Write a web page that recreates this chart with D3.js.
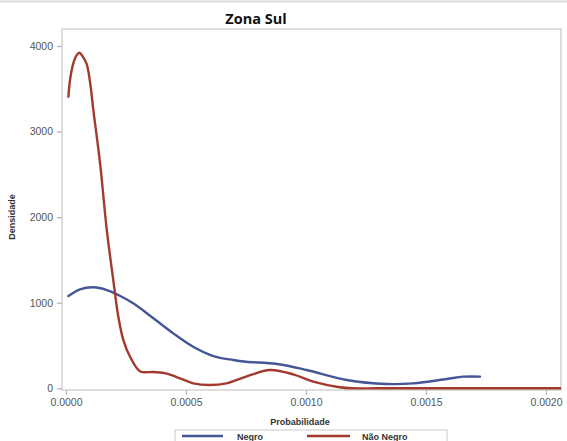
<!DOCTYPE html>
<html>
<head>
<meta charset="utf-8">
<script src="https://cdn.jsdelivr.net/npm/d3@7"></script>
<style>
  html, body { margin: 0; padding: 0; background: #fff; }
  svg { display: block; }
</style>
</head>
<body>
<svg id="chart" width="567" height="441"></svg>
<script>
// ---- Data ----
const title = "Zona Sul";
const xLabel = "Probabilidade";
const yLabel = "Densidade";
const seriesNames = ["Negro", "Não Negro"];
const xTicks = [0, 0.0005, 0.0010, 0.0015, 0.0020];
const yTicks = [0, 1000, 2000, 3000, 4000];

const negroX = [0.00001, 0.0000583, 0.000114, 0.00017, 0.000218, 0.00028, 0.000364, 0.000447, 0.00053, 0.000614, 0.000697, 0.00075, 0.00088, 0.001003, 0.00117, 0.001336, 0.001447, 0.001586, 0.001655, 0.001725];
const negroY = [1078, 1156, 1180, 1148, 1090, 993, 818, 642, 486, 377, 331, 311, 284, 214, 97, 50, 58, 109, 136, 136];

const naoNegroX = [0.00001, 0.0000167, 0.0000304, 0.0000446, 0.0000554, 0.000068, 0.000086, 0.0001, 0.000114, 0.000142, 0.00017, 0.000197, 0.000218, 0.000239, 0.000267, 0.000308, 0.000364, 0.00042, 0.000475, 0.00053, 0.0006, 0.000668, 0.00075, 0.00085, 0.00095, 0.00103, 0.00114, 0.00119, 0.0013, 0.0016, 0.00206];
const naoNegroY = [3407, 3602, 3797, 3894, 3921, 3885, 3790, 3580, 3251, 2628, 1849, 1265, 836, 564, 369, 200, 190, 172, 117, 58, 39, 58, 136, 214, 160, 77, 12, 0, 0, 0, 0];

const colors = ["#445694", "#A23A2E"];

// ---- Layout ----
const svg = d3.select("#chart");
const frame = { left: 62, right: 561, top: 29, bottom: 390 };

const x = d3.scaleLinear().domain([0, 0.002]).range([66, 546]);
const y = d3.scaleLinear().domain([0, 4000]).range([388.3, 46]);

// top grey line (image border)
svg.append("line").attr("x1", 0).attr("x2", 567).attr("y1", 1.5).attr("y2", 1.5)
  .attr("stroke", "#d8d8d8").attr("stroke-width", 2);

// title
svg.append("text").attr("x", 256).attr("y", 24)
  .attr("text-anchor", "middle")
  .attr("font-family", "Open Sans, sans-serif").attr("font-weight", "bold")
  .attr("font-size", 14.5).attr("fill", "#111").text(title);

// frame
svg.append("rect")
  .attr("x", frame.left).attr("y", frame.top)
  .attr("width", frame.right - frame.left).attr("height", frame.bottom - frame.top)
  .attr("fill", "none").attr("stroke", "#c9c9c9").attr("stroke-width", 1.2);

// axes
const xAxis = d3.axisBottom(x).tickValues(xTicks).tickFormat(d3.format(".4f")).tickSizeInner(5).tickSizeOuter(0).tickPadding(4);
const gx = svg.append("g").attr("transform", `translate(0,${frame.bottom})`).call(xAxis);
gx.select(".domain").remove();

const yAxis = d3.axisLeft(y).tickValues(yTicks).tickFormat(d3.format("d")).tickSizeInner(5).tickSizeOuter(0).tickPadding(4);
const gy = svg.append("g").attr("transform", `translate(${frame.left},0)`).call(yAxis);
gy.select(".domain").remove();

[gx, gy].forEach(g => {
  g.selectAll(".tick line").attr("stroke", "#b5b5b5").attr("stroke-width", 1.2);
  g.selectAll(".tick text").attr("fill", "#555").attr("font-size", 10.5)
    .attr("font-family", "Liberation Sans, Arial, sans-serif");
});

// axis labels
svg.append("text").attr("x", 300).attr("y", 425)
  .attr("text-anchor", "middle").attr("font-family", "Liberation Sans, Arial, sans-serif")
  .attr("font-weight", "bold").attr("font-size", 9).attr("fill", "#333").text(xLabel);

svg.append("text").attr("transform", "translate(15,217) rotate(-90)")
  .attr("text-anchor", "middle").attr("font-family", "Liberation Sans, Arial, sans-serif")
  .attr("font-weight", "bold").attr("font-size", 9).attr("fill", "#333").text(yLabel);

// curves
const line = d3.line().x(d => x(d[0])).y(d => y(d[1])).curve(d3.curveCatmullRom.alpha(0.5));
const series = [d3.zip(negroX, negroY), d3.zip(naoNegroX, naoNegroY)];

svg.append("clipPath").attr("id", "clip").append("rect")
  .attr("x", frame.left).attr("y", frame.top)
  .attr("width", frame.right - frame.left).attr("height", frame.bottom - frame.top);

svg.append("g").attr("clip-path", "url(#clip)")
  .selectAll("path").data(series).join("path")
  .attr("d", line).attr("fill", "none")
  .attr("stroke", (d, i) => colors[i]).attr("stroke-width", 2.4)
  .attr("stroke-linejoin", "round").attr("stroke-linecap", "round");

// legend
const lg = svg.append("g");
lg.append("rect").attr("x", 175).attr("y", 430).attr("width", 272).attr("height", 20)
  .attr("fill", "#fff").attr("stroke", "#c9c9c9").attr("stroke-width", 1);
const legendItems = [
  { x1: 182, x2: 223, tx: 237 },
  { x1: 307, x2: 350, tx: 362 }
];
legendItems.forEach((it, i) => {
  lg.append("line").attr("x1", it.x1).attr("x2", it.x2).attr("y1", 436).attr("y2", 436)
    .attr("stroke", colors[i]).attr("stroke-width", 2.4);
  lg.append("text").attr("x", it.tx).attr("y", 439.5)
    .attr("font-family", "Liberation Sans, Arial, sans-serif").attr("font-weight", "bold")
    .attr("font-size", 9).attr("fill", "#333").text(seriesNames[i]);
});
</script>
</body>
</html>
